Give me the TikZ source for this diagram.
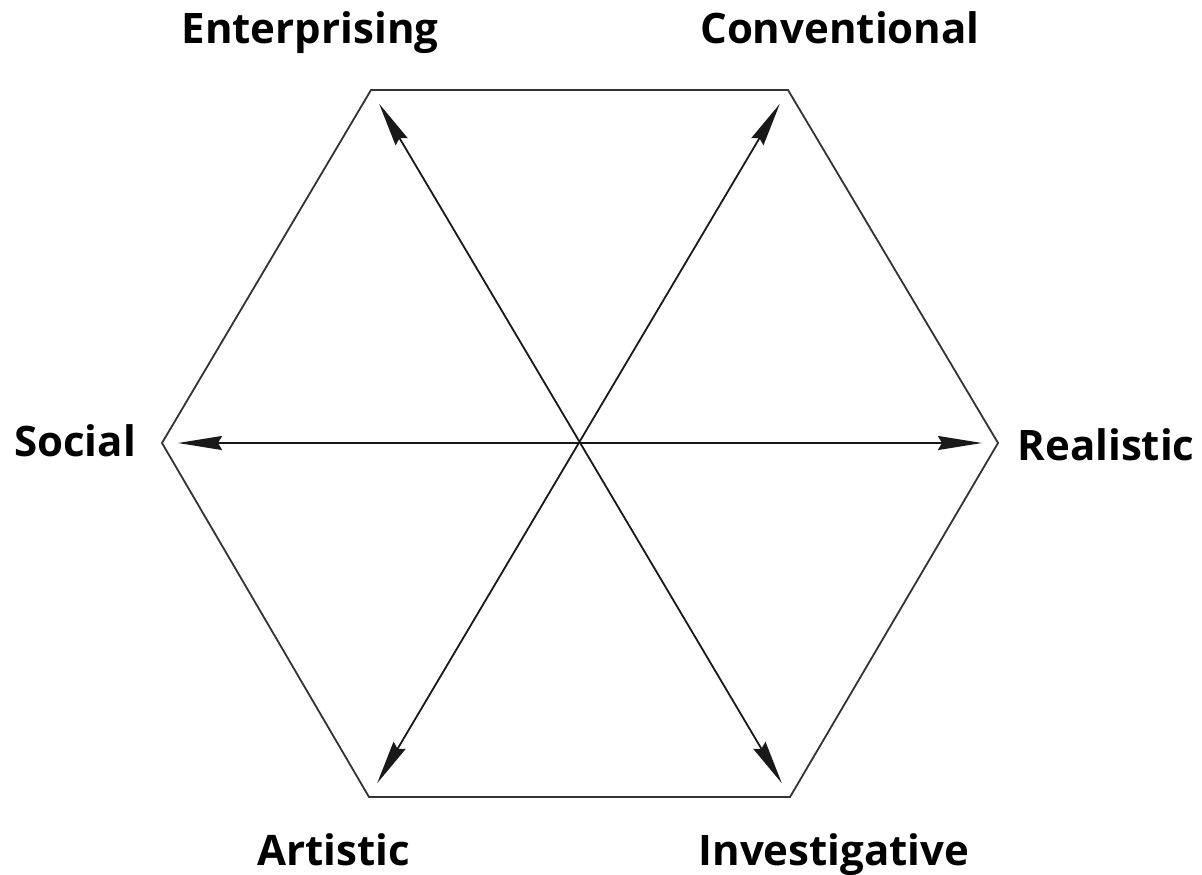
\documentclass[tikz,border=0pt]{standalone}
\usepackage{fontspec}
\setmainfont{Open Sans}
\usetikzlibrary{arrows.meta}
\begin{document}
\begin{tikzpicture}[x=1pt,y=-1pt,
  hexline/.style={line width=1.8pt, black!80},
  axis/.style={line width=1.8pt, black!90, {Stealth[length=44pt,width=14pt,inset=4pt]}-{Stealth[length=44pt,width=14pt,inset=4pt]}, shorten <=16pt, shorten >=16pt},
  lbl/.style={font=\bfseries\fontsize{42}{42}\selectfont, inner sep=0pt, anchor=base}]
\useasboundingbox (0,0) rectangle (1202,875);
\coordinate (E) at (371,90);
\coordinate (C) at (788,90);
\coordinate (R) at (998,443);
\coordinate (I) at (790,797);
\coordinate (A) at (369,797);
\coordinate (S) at (162,443);
\coordinate (O) at (578,443);
\draw[hexline] (E) -- (C) -- (R) -- (I) -- (A) -- (S) -- cycle;
\draw[axis] (S) -- (R);
\draw[axis] (E) -- (I);
\draw[axis] (C) -- (A);
\node[lbl] (tE) at (310,44) {Enterprising};
\node[lbl] (tC) at (840,44) {Conventional};
\node[lbl] (tS) at (75,456) {Social};
\node[lbl] (tR) at (1106,460) {Realistic};
\node[lbl] (tA) at (334,865) {Artistic};
\node[lbl] (tI) at (834,865) {Investigative};
\end{tikzpicture}
\end{document}
